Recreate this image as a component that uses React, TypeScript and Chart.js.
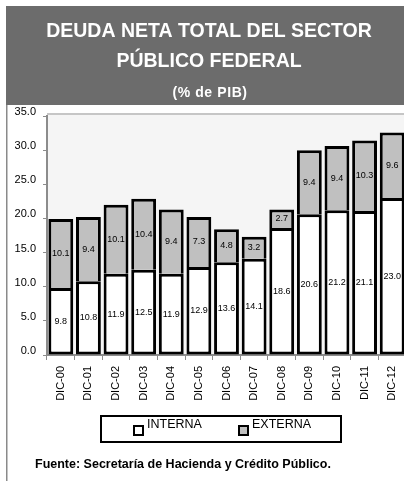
import React, { useEffect, useRef } from "react";
import { Chart, registerables } from "chart.js";
Chart.register(...registerables);

const categories = ["DIC-00", "DIC-01", "DIC-02", "DIC-03", "DIC-04", "DIC-05", "DIC-06", "DIC-07", "DIC-08", "DIC-09", "DIC-10", "DIC-11", "DIC-12"];
const interna = [9.8, 10.8, 11.9, 12.5, 11.9, 12.9, 13.6, 14.1, 18.6, 20.6, 21.2, 21.1, 23.0];
const externa = [10.1, 9.4, 10.1, 10.4, 9.4, 7.3, 4.8, 3.2, 2.7, 9.4, 9.4, 10.3, 9.6];
const yMin = 0;
const yMax = 35;
const yStep = 5;
const titleLines = ["DEUDA NETA TOTAL DEL SECTOR", "PÚBLICO FEDERAL"];
const subtitle = "(% de PIB)";
const seriesNames = ["INTERNA", "EXTERNA"];
const source = "Fuente: Secretaría de Hacienda y Crédito Público.";

const FONT = "'Liberation Sans', Arial, sans-serif";
const GRAY_BAR = "#c0c0c0";

const decor = {
  id: "decor",
  beforeDraw(chart: any) {
    const ctx = chart.ctx;
    const { left, top, bottom } = chart.chartArea;
    const W = chart.width;
    const H = chart.height;
    ctx.save();
    ctx.fillStyle = "#ffffff";
    ctx.fillRect(0, 0, W, H);
    // title box
    ctx.fillStyle = "#6c6c6c";
    ctx.fillRect(6, 6, W - 6, 99);
    // left frame line
    ctx.fillStyle = "#8a8a8a";
    ctx.fillRect(6, 105, 1.5, H - 105);
    // plot background
    ctx.fillStyle = "#f5f5f5";
    ctx.fillRect(left, top - 1, W - left, bottom - top + 1);
    ctx.fillStyle = "#c6c6c6";
    ctx.fillRect(left, top - 3, W - left, 2);
    // title text
    ctx.fillStyle = "#ffffff";
    ctx.textAlign = "center";
    ctx.textBaseline = "middle";
    ctx.font = `bold 19.5px ${FONT}`;
    ctx.fillText(titleLines[0], 209, 32);
    ctx.fillText(titleLines[1], 209, 62);
    ctx.font = `bold 14px ${FONT}`;
    (ctx as any).letterSpacing = "0.6px";
    ctx.fillText(subtitle, 210, 93);
    (ctx as any).letterSpacing = "0px";
    ctx.restore();
  },
  afterDatasetsDraw(chart: any) {
    const ctx = chart.ctx;
    ctx.save();
    ctx.fillStyle = "#000";
    ctx.font = `9px ${FONT}`;
    ctx.textAlign = "center";
    ctx.textBaseline = "middle";
    chart.data.datasets.forEach((ds: any, di: number) => {
      const meta = chart.getDatasetMeta(di);
      meta.data.forEach((bar: any, i: number) => {
        const v = ds.data[i];
        const y = (bar.y + bar.base) / 2;
        ctx.fillText(v.toFixed(1), bar.x, y);
      });
    });
    ctx.restore();
  },
  afterDraw(chart: any) {
    const ctx = chart.ctx;
    ctx.save();
    // legend box
    ctx.strokeStyle = "#000";
    ctx.lineWidth = 2;
    ctx.strokeRect(101, 416, 240, 26);
    const items = [
      { x: 134, fill: "#ffffff", label: seriesNames[0] },
      { x: 239, fill: GRAY_BAR, label: seriesNames[1] },
    ];
    ctx.font = `12.5px ${FONT}`;
    ctx.textBaseline = "middle";
    ctx.textAlign = "left";
    items.forEach((it) => {
      ctx.fillStyle = it.fill;
      ctx.fillRect(it.x, 426, 9, 9);
      ctx.lineWidth = 2;
      ctx.strokeStyle = "#000";
      ctx.strokeRect(it.x, 426, 9, 9);
      ctx.fillStyle = "#000";
      ctx.fillText(it.label, it.x + 13, 424.5);
    });
    // footer
    ctx.font = `bold 12.5px ${FONT}`;
    ctx.fillStyle = "#000";
    ctx.fillText(source, 35, 465);
    ctx.restore();
  },
};

export default function App() {
  const ref = useRef<HTMLCanvasElement>(null);
  useEffect(() => {
    if (!ref.current) return;
    const chart = new Chart(ref.current, {
      type: "bar",
      data: {
        labels: categories,
        datasets: [
          {
            label: seriesNames[0],
            data: interna,
            backgroundColor: "#ffffff",
            borderColor: "#000000",
            borderWidth: 3,
            borderSkipped: false,
            barPercentage: 0.9,
            categoryPercentage: 1,
          },
          {
            label: seriesNames[1],
            data: externa,
            backgroundColor: GRAY_BAR,
            borderColor: "#000000",
            borderWidth: 3,
            borderSkipped: "bottom",
            barPercentage: 0.9,
            categoryPercentage: 1,
          },
        ],
      },
      options: {
        responsive: false,
        animation: false,
        devicePixelRatio: 1,
        layout: { padding: { left: 0, top: 116, right: 6, bottom: 0 } },
        plugins: { legend: { display: false }, tooltip: { enabled: false }, title: { display: false } },
        scales: {
          x: {
            stacked: true,
            afterFit: (s: any) => { s.height = 126; },
            grid: { display: true, offset: true, drawOnChartArea: false, drawTicks: true, tickLength: 5, color: "#8c8c8c", lineWidth: 1 },
            border: { display: true, color: "#8c8c8c", width: 2 },
            ticks: { autoSkip: false, minRotation: 90, maxRotation: 90, padding: 6, color: "#000", font: { family: FONT, size: 11 } },
          },
          y: {
            stacked: true,
            min: yMin,
            max: yMax,
            afterFit: (s: any) => { s.width = 47; },
            grid: { display: true, drawOnChartArea: false, drawTicks: true, tickLength: 4, color: "#8c8c8c" },
            border: { display: true, color: "#8c8c8c", width: 2 },
            ticks: { stepSize: yStep, padding: 7, labelOffset: -4, color: "#000", font: { family: FONT, size: 11 }, callback: (v: any) => Number(v).toFixed(1) },
          },
        },
      },
      plugins: [decor],
    });
    return () => chart.destroy();
  }, []);
  return (
    <div style={{ position: "absolute", left: 0, top: 0, width: 404, height: 481, overflow: "hidden", background: "#fff" }}>
      <canvas ref={ref} width={412} height={481} style={{ display: "block" }} />
    </div>
  );
}
